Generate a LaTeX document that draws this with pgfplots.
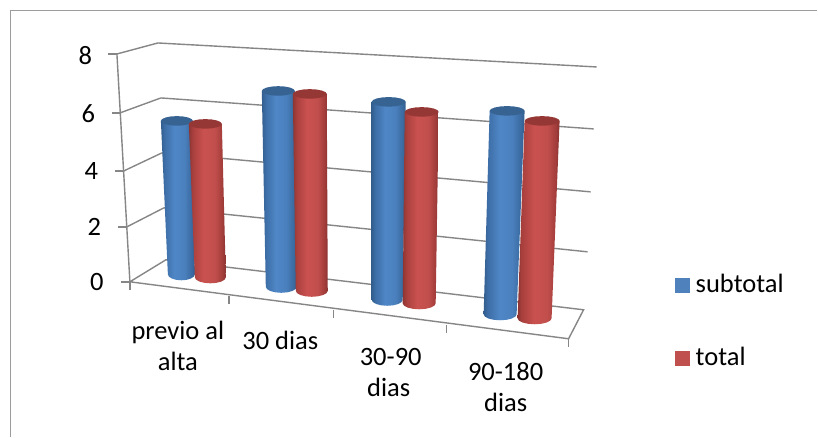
\documentclass[border=0pt]{standalone}
\usepackage{fontspec}
\setmainfont{Carlito}
\usepackage{pgfplots}
\usepackage{pgfplotstable}
\pgfplotsset{compat=1.18}

\definecolor{gridgray}{HTML}{868686}
\definecolor{framegray}{HTML}{9C9C9C}
\definecolor{capblue}{HTML}{376392}
\definecolor{capred}{HTML}{953735}
\definecolor{keyblue}{HTML}{4F81BD}
\definecolor{keyred}{HTML}{C0504D}

\pgfdeclarehorizontalshading{cylblue}{100bp}{
  rgb(0bp)=(0.20,0.37,0.56);
  rgb(25bp)=(0.20,0.37,0.56);
  rgb(30bp)=(0.24,0.43,0.65);
  rgb(45bp)=(0.31,0.53,0.78);
  rgb(60bp)=(0.29,0.50,0.74);
  rgb(70bp)=(0.23,0.42,0.63);
  rgb(75bp)=(0.20,0.37,0.56);
  rgb(100bp)=(0.20,0.37,0.56)}
\pgfdeclarehorizontalshading{cylred}{100bp}{
  rgb(0bp)=(0.55,0.21,0.20);
  rgb(25bp)=(0.55,0.21,0.20);
  rgb(30bp)=(0.66,0.25,0.24);
  rgb(45bp)=(0.79,0.32,0.31);
  rgb(60bp)=(0.76,0.31,0.30);
  rgb(70bp)=(0.64,0.24,0.23);
  rgb(75bp)=(0.54,0.20,0.19);
  rgb(100bp)=(0.54,0.20,0.19)}

% Cylinder side: lower half round, then up to the top rim (w = 1 rows)
\pgfplotstableread{
c s w
1 0 0
0.924 0.383 0
0.707 0.707 0
0.383 0.924 0
0 1 0
-0.383 0.924 0
-0.707 0.707 0
-0.924 0.383 0
-1 0 0
-1 0 1
1 0 1
}\cylside

% Cylinder lid: full round
\pgfplotstableread{
c s
1 0
0.924 0.383
0.707 0.707
0.383 0.924
0 1
-0.383 0.924
-0.707 0.707
-0.924 0.383
-1 0
-0.924 -0.383
-0.707 -0.707
-0.383 -0.924
0 -1
0.383 -0.924
0.707 -0.707
0.924 -0.383
}\cyllid

% #1 shading, #2 lid colour, #3 value, #4 pixels per unit at this bar,
% #5 base left, #6 base right, #7 base centre y, #8 top left, #9 top right
\newcommand{\cyl}[9]{
  \addplot[draw=none, shading=#1, shading angle=0] table[
    x expr={(1-\thisrow{w})*((#5+#6)/2+(#6-#5)/2*\thisrow{c})+\thisrow{w}*((#8+#9)/2+(#9-#8)/2*\thisrow{c})},
    y expr={(1-\thisrow{w})*(#7+6*\thisrow{s})+\thisrow{w}*(#7-#3*#4)}
  ] {\cylside};
  \addplot[draw=none, fill=#2] table[
    x expr={(#8+#9)/2+(#9-#8)/2*\thisrow{c}},
    y expr={#7-#3*#4+4.8*\thisrow{s}}
  ] {\cyllid};
}
\newcommand{\lab}[4]{\node[anchor=#1, inner sep=0pt] at (axis cs:#2,#3) {\fontsize{26.5}{30}\selectfont #4};}

\begin{document}
\begin{tikzpicture}
\begin{axis}[
  scale only axis, width=818pt, height=437pt,
  xmin=0, xmax=818, ymin=0, ymax=437, y dir=reverse,
  hide axis, clip=false,
]
% page background
\addplot[draw=none, fill=white] coordinates {(0,0) (818,0) (818,437) (0,437)};
% outer frame
\addplot[framegray, line width=1.2pt] coordinates {(10.5,437) (10.5,10.5) (818,10.5)};

% back wall levels
\addplot[gridgray, line width=1.4pt] coordinates {(158,43) (597,67)};
\addplot[gridgray, line width=1.4pt] coordinates {(161,98) (594,129)};
\addplot[gridgray, line width=1.4pt] coordinates {(162,153) (591,192)};
\addplot[gridgray, line width=1.4pt] coordinates {(164,208) (588,252)};
% side wall levels
\addplot[gridgray, line width=1.4pt] coordinates {(117,54) (158,43)};
\addplot[gridgray, line width=1.4pt] coordinates {(120,113) (161,98)};
\addplot[gridgray, line width=1.4pt] coordinates {(124,171) (162,153)};
\addplot[gridgray, line width=1.4pt] coordinates {(127,227) (164,208)};
% floor outline
\addplot[gridgray, line width=1.4pt] coordinates {(130,282) (166,260) (584,310) (569,339) (130,282)};
% vertical axis and its ticks
\addplot[gridgray, line width=1.4pt] coordinates {(117,54) (130,282)};
\addplot[gridgray, line width=1.4pt] coordinates {(108,54) (117,54)};
\addplot[gridgray, line width=1.4pt] coordinates {(112,113) (120,113)};
\addplot[gridgray, line width=1.4pt] coordinates {(115,171) (124,171)};
\addplot[gridgray, line width=1.4pt] coordinates {(118,227) (127,227)};
\addplot[gridgray, line width=1.4pt] coordinates {(121,282) (130,282)};
% category ticks
\addplot[gridgray, line width=1.4pt] coordinates {(130,282) (130,290)};
\addplot[gridgray, line width=1.4pt] coordinates {(229,296) (229,304)};
\addplot[gridgray, line width=1.4pt] coordinates {(334,310) (334,318)};
\addplot[gridgray, line width=1.4pt] coordinates {(447,325) (447,333)};
\addplot[gridgray, line width=1.4pt] coordinates {(569,339) (569,347)};

% previo al alta
\cyl{cylblue}{capblue}{5.5}{27.91}{168}{195}{274.5}{161}{193}
\cyl{cylred}{capred}{5.5}{27.91}{195}{226}{277.5}{189}{222}
% 30 dias
\cyl{cylblue}{capblue}{6.8}{28.82}{266}{297}{287}{262}{295}
\cyl{cylred}{capred}{6.8}{28.97}{296}{328}{291}{293}{327}
% 30-90 dias
\cyl{cylblue}{capblue}{6.7}{29.56}{372}{403}{300}{372}{406}
\cyl{cylred}{capred}{6.45}{29.69}{403}{436}{303.5}{405}{439}
% 90-180 dias
\cyl{cylblue}{capblue}{6.7}{30.38}{484}{517}{314.5}{490}{525}
\cyl{cylred}{capred}{6.45}{30.62}{518}{552}{318.5}{525}{560}

% legend keys
\addplot[draw=none, fill=keyblue] coordinates {(675,278) (690,278) (690,293) (675,293)};
\addplot[draw=none, fill=keyred] coordinates {(675,351) (690,351) (690,366) (675,366)};

% value labels
\lab{base}{85.5}{65}{8}
\lab{base}{88.5}{123}{6}
\lab{base}{91.5}{180}{4}
\lab{base}{94.5}{236}{2}
\lab{base}{97}{291}{0}

% category labels
\lab{base}{178}{340}{previo al}
\lab{base}{178}{371}{alta}
\lab{base}{280.5}{350}{30 dias}
\lab{base}{391}{366}{30-90}
\lab{base}{389}{397}{dias}
\lab{base}{506}{381}{90-180}
\lab{base}{506}{412}{dias}

% legend labels
\lab{base west}{696}{293}{subtotal}
\lab{base west}{696}{366}{total}
\end{axis}
\end{tikzpicture}
\end{document}
